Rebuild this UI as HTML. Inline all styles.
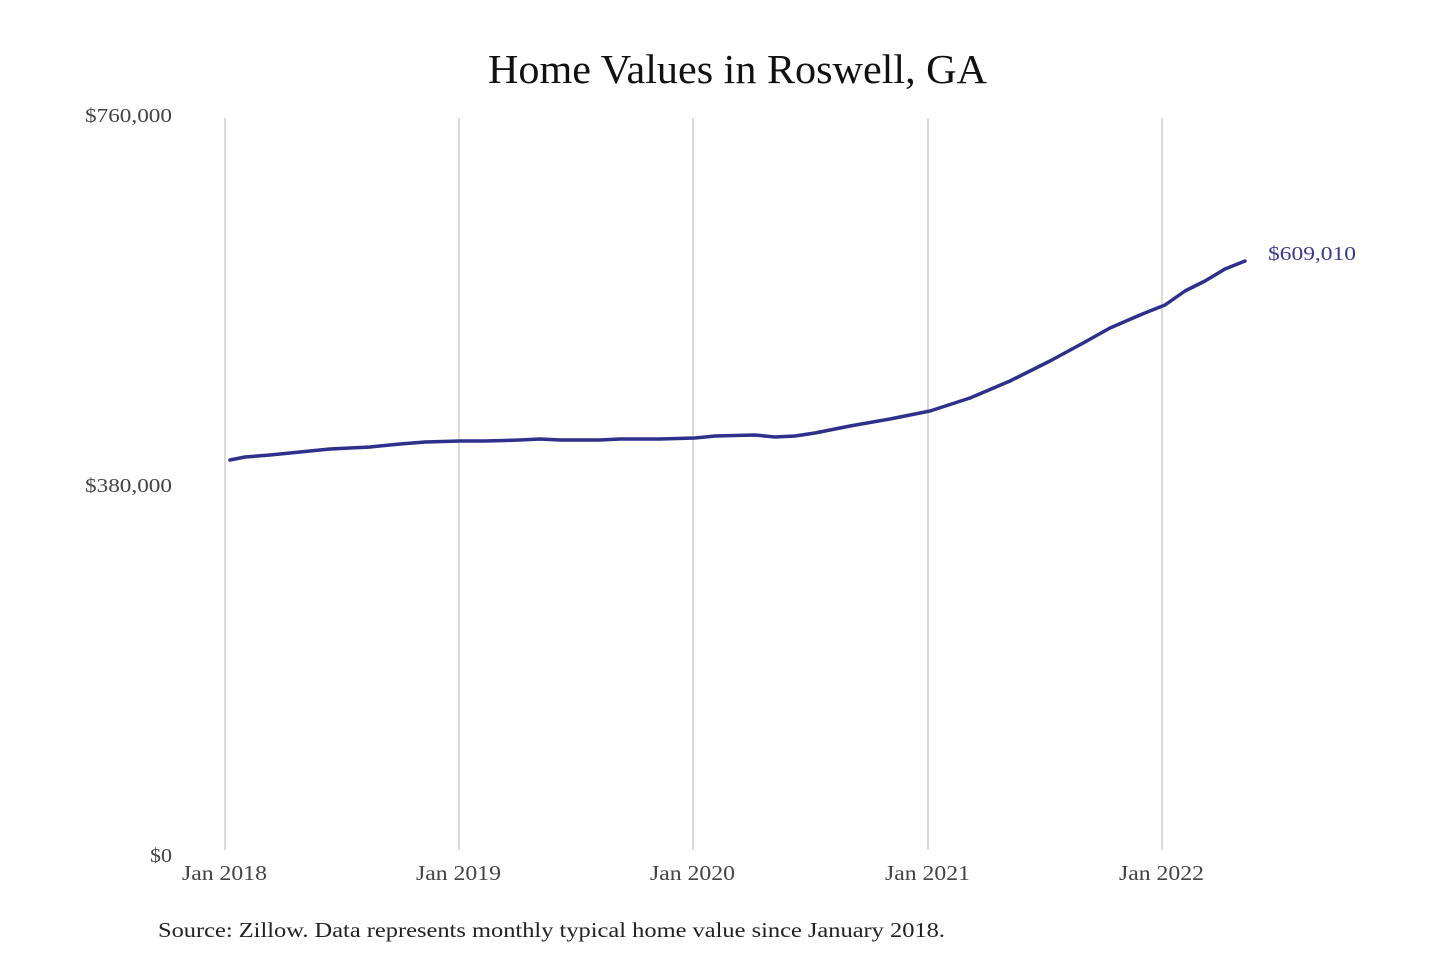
<!DOCTYPE html>
<html><head><meta charset="utf-8"><style>
html,body{margin:0;padding:0;background:#fff;}
svg{display:block;}
</style></head><body>
<svg width="1440" height="960" viewBox="0 0 1440 960" xmlns="http://www.w3.org/2000/svg" font-family="'Liberation Serif', serif">
<text x="488" y="83" font-size="41" fill="#111" textLength="499" lengthAdjust="spacingAndGlyphs">Home Values in Roswell, GA</text>
<g stroke="#b5b5b5" stroke-width="1">
<line x1="225" y1="118" x2="225" y2="850"/>
<line x1="459" y1="118" x2="459" y2="850"/>
<line x1="693" y1="118" x2="693" y2="850"/>
<line x1="928" y1="118" x2="928" y2="850"/>
<line x1="1162" y1="118" x2="1162" y2="850"/>
</g>
<g font-size="20" fill="#444">
<text x="85" y="122" textLength="87" lengthAdjust="spacingAndGlyphs">$760,000</text>
<text x="85" y="492" textLength="87" lengthAdjust="spacingAndGlyphs">$380,000</text>
<text x="150" y="862" textLength="22" lengthAdjust="spacingAndGlyphs">$0</text>
</g>
<g font-size="21" fill="#444">
<text x="182" y="880" textLength="85" lengthAdjust="spacingAndGlyphs">Jan 2018</text>
<text x="416" y="880" textLength="85" lengthAdjust="spacingAndGlyphs">Jan 2019</text>
<text x="650" y="880" textLength="85" lengthAdjust="spacingAndGlyphs">Jan 2020</text>
<text x="885" y="880" textLength="85" lengthAdjust="spacingAndGlyphs">Jan 2021</text>
<text x="1119" y="880" textLength="85" lengthAdjust="spacingAndGlyphs">Jan 2022</text>
</g>
<polyline fill="none" stroke="#2f2f8c" stroke-width="3.5" stroke-linejoin="round" stroke-linecap="round"
points="230,460 245,457 270,455 300,452 330,449 370,447 400,444 425,442 460,441 485,441 520,440 540,439 560,440 600,440 620,439 660,439 695,438 715,436 755,435 775,437 795,436 815,433 850,426 890,419 930,411 970,398 1010,381 1050,361 1085,342 1110,328 1140,315 1165,305 1185,291 1205,281 1225,269 1245,261"/>
<text x="1268" y="260" font-size="20" fill="#3a3a8c" textLength="88" lengthAdjust="spacingAndGlyphs">$609,010</text>
<text x="158" y="937" font-size="21" fill="#222" textLength="787" lengthAdjust="spacingAndGlyphs">Source: Zillow. Data represents monthly typical home value since January 2018.</text>
</svg>
</body></html>
